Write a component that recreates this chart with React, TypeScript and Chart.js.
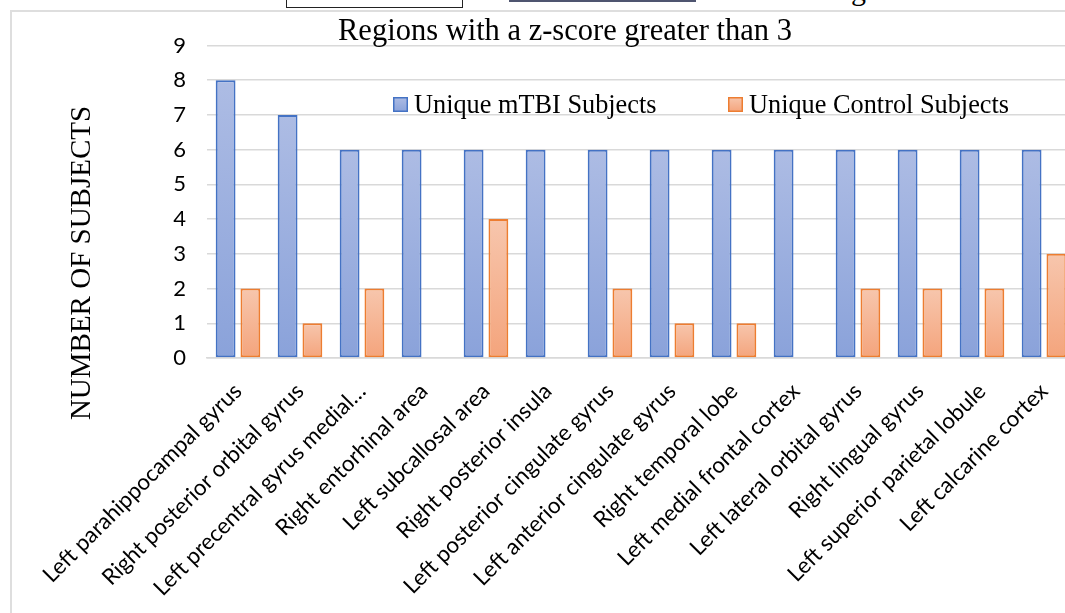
import React, { useEffect, useRef } from "react";
import { Chart, registerables } from "chart.js";

Chart.register(...registerables);

// Brain regions, x-axis categories
const regions: string[] = [
  "Left parahippocampal gyrus",
  "Right posterior orbital gyrus",
  "Left precentral gyrus medial…",
  "Right entorhinal area",
  "Left subcallosal area",
  "Right posterior insula",
  "Left posterior cingulate gyrus",
  "Left anterior cingulate gyrus",
  "Right temporal lobe",
  "Left medial frontal cortex",
  "Left lateral orbital gyrus",
  "Right lingual gyrus",
  "Left superior parietal lobule",
  "Left calcarine cortex",
];

// Number of subjects per region
const mtbiCounts: number[] = [8, 7, 6, 6, 6, 6, 6, 6, 6, 6, 6, 6, 6, 6];
const controlCounts: number[] = [2, 1, 2, 0, 4, 0, 2, 1, 1, 0, 2, 2, 2, 3];

const seriesNames: string[] = ["Unique mTBI Subjects", "Unique Control Subjects"];
const chartTitle = "Regions with a z-score greater than 3";
const yAxisTitle = "NUMBER OF SUBJECTS";
const yTicks: number[] = [0, 1, 2, 3, 4, 5, 6, 7, 8, 9];

const BLUE = { border: "#4472C4", top: "#adbce4", bottom: "#8aa2da" };
const ORANGE = { border: "#ED7D31", top: "#f7c6ad", bottom: "#f4a47c" };

const SANS = "Lato, 'Open Sans', sans-serif";
const SERIF = "'Liberation Serif', 'Times New Roman', serif";

// Vertical gradient for each bar, from its top down to the baseline
function barGradient(c: { top: string; bottom: string }) {
  return (ctx: any) => {
    const chart = ctx.chart;
    const { chartArea, scales } = chart;
    if (!chartArea || ctx.type !== "data" || !scales.y) return c.bottom;
    const v = Number(ctx.raw);
    const yTop = scales.y.getPixelForValue(v);
    const yBase = scales.y.getPixelForValue(0);
    if (!(yBase > yTop)) return c.bottom;
    const g = chart.ctx.createLinearGradient(0, yTop, 0, yBase);
    g.addColorStop(0, c.top);
    g.addColorStop(1, c.bottom);
    return g;
  };
}

// Title, rotated axis title and the in-plot legend
const overlayPlugin = {
  id: "overlay",
  afterDraw(chart: any) {
    const { ctx } = chart;
    ctx.save();
    ctx.fillStyle = "#000";
    ctx.textBaseline = "alphabetic";

    ctx.font = `30.5px ${SERIF}`;
    ctx.textAlign = "center";
    ctx.fillText(chartTitle, 565, 40);

    ctx.save();
    ctx.translate(90, 263);
    ctx.rotate(-Math.PI / 2);
    ctx.font = `29px ${SERIF}`;
    ctx.fillText(yAxisTitle, 0, 0);
    ctx.restore();

    const items = [
      { name: seriesNames[0], c: BLUE, x: 393 },
      { name: seriesNames[1], c: ORANGE, x: 728 },
    ];
    ctx.font = `26.3px ${SERIF}`;
    ctx.textAlign = "left";
    for (const it of items) {
      const bx = it.x, by = 97, s = 15;
      const g = ctx.createLinearGradient(0, by, 0, by + s);
      g.addColorStop(0, it.c.top);
      g.addColorStop(1, it.c.bottom);
      ctx.fillStyle = g;
      ctx.fillRect(bx, by, s, s);
      ctx.strokeStyle = it.c.border;
      ctx.lineWidth = 1.5;
      ctx.strokeRect(bx + 0.75, by + 0.75, s - 1.5, s - 1.5);
      ctx.fillStyle = "#000";
      ctx.fillText(it.name, bx + 21, 113);
    }
    ctx.restore();
  },
};

export default function App() {
  const canvasRef = useRef<HTMLCanvasElement | null>(null);

  useEffect(() => {
    const canvas = canvasRef.current;
    if (!canvas) return;
    const chart = new Chart(canvas, {
      type: "bar",
      data: {
        labels: regions,
        datasets: [
          {
            label: seriesNames[0],
            data: mtbiCounts,
            backgroundColor: barGradient(BLUE),
            borderColor: BLUE.border,
            borderWidth: 2,
            borderSkipped: false,
            categoryPercentage: 0.8,
            barPercentage: 0.8,
          },
          {
            label: seriesNames[1],
            data: controlCounts,
            backgroundColor: barGradient(ORANGE),
            borderColor: ORANGE.border,
            borderWidth: 2,
            borderSkipped: false,
            categoryPercentage: 0.8,
            barPercentage: 0.8,
          },
        ],
      },
      options: {
        responsive: false,
        animation: false,
        devicePixelRatio: 1,
        layout: { padding: { left: 0, top: 45.5, right: 10, bottom: 0 } },
        plugins: {
          legend: { display: false },
          title: { display: false },
          tooltip: { enabled: false },
        },
        scales: {
          x: {
            grid: { display: false },
            border: { color: "#d9d9d9", width: 1.5 },
            ticks: {
              color: "#000",
              font: { family: SANS, size: 22.4 },
              minRotation: 45,
              maxRotation: 45,
              autoSkip: false,
              padding: 12,
            },
            afterFit: (s: any) => {
              s.height = 613 - 358;
            },
          },
          y: {
            min: 0,
            max: 9,
            afterBuildTicks: (s: any) => {
              s.ticks = yTicks.map((v) => ({ value: v }));
            },
            grid: { color: "#d9d9d9", lineWidth: 1.5, drawTicks: false },
            border: { display: false },
            ticks: {
              color: "#000",
              font: { family: SANS, size: 22 },
              padding: 21,
            },
            afterFit: (s: any) => {
              s.width = 207;
            },
          },
        },
      },
      plugins: [overlayPlugin],
    });
    return () => chart.destroy();
  }, []);

  return (
    <div
      style={{
        position: "fixed",
        inset: 0,
        overflow: "hidden",
        background: "#fff",
      }}
    >
      {/* edge of the figure above */}
      <div
        style={{
          position: "absolute",
          left: 286,
          top: -12,
          width: 177,
          height: 20,
          boxSizing: "border-box",
          border: "1.5px solid #222",
          background: "#fff",
        }}
      />
      <div
        style={{
          position: "absolute",
          left: 509,
          top: 0,
          width: 187,
          height: 2,
          background: "#4f5570",
        }}
      />
      <div
        style={{
          position: "absolute",
          left: 851,
          top: -25,
          fontFamily: SERIF,
          fontSize: 30,
          lineHeight: "30px",
          color: "#000",
        }}
      >
        g
      </div>
      {/* chart frame */}
      <div
        style={{
          position: "absolute",
          left: 10,
          top: 10,
          width: 1300,
          height: 900,
          boxSizing: "border-box",
          border: "2px solid #dedede",
        }}
      />
      <canvas
        ref={canvasRef}
        width={1085}
        height={613}
        style={{ position: "absolute", left: 0, top: 0, width: 1085, height: 613 }}
      />
    </div>
  );
}
